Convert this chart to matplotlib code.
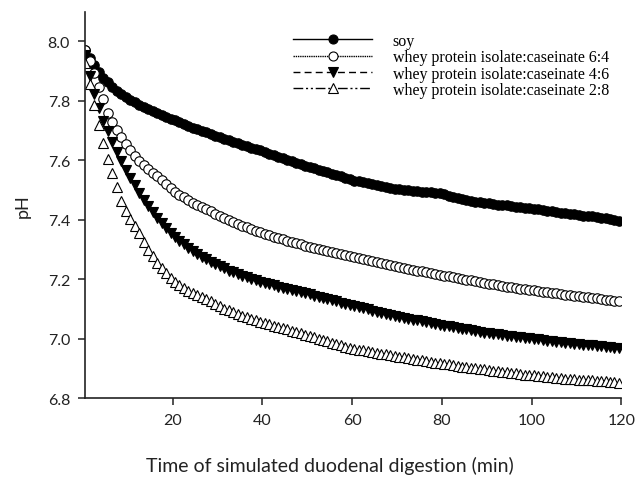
import numpy as np
import matplotlib
matplotlib.use("Agg")
import matplotlib.pyplot as plt
from matplotlib.lines import Line2D

# sampling time (min), one reading per minute
time_min = np.arange(0.5, 120, 1.0)

ph_soy = [
    7.970, 7.945, 7.920, 7.898, 7.878, 7.862, 7.848, 7.834, 7.822, 7.812,
    7.803, 7.795, 7.787, 7.780, 7.773, 7.766, 7.759, 7.752, 7.746, 7.740,
    7.734, 7.728, 7.722, 7.716, 7.710, 7.705, 7.699, 7.694, 7.688, 7.683,
    7.678, 7.673, 7.668, 7.663, 7.658, 7.653, 7.648, 7.643, 7.638, 7.633,
    7.628, 7.622, 7.617, 7.612, 7.607, 7.601, 7.596, 7.591, 7.587, 7.582,
    7.578, 7.573, 7.569, 7.564, 7.560, 7.555, 7.551, 7.546, 7.542, 7.537,
    7.532, 7.529, 7.526, 7.522, 7.519, 7.516, 7.513, 7.510, 7.506, 7.504,
    7.502, 7.500, 7.499, 7.497, 7.496, 7.494, 7.493, 7.492, 7.490, 7.489,
    7.486, 7.481, 7.477, 7.473, 7.469, 7.466, 7.463, 7.460, 7.458, 7.457,
    7.455, 7.453, 7.451, 7.449, 7.448, 7.446, 7.444, 7.442, 7.440, 7.439,
    7.437, 7.435, 7.433, 7.431, 7.428, 7.426, 7.424, 7.422, 7.420, 7.418,
    7.416, 7.414, 7.413, 7.411, 7.409, 7.407, 7.405, 7.403, 7.400, 7.396,
]

ph_wpi_64 = [
    7.972, 7.935, 7.893, 7.848, 7.805, 7.760, 7.728, 7.703, 7.678, 7.655,
    7.633, 7.615, 7.598, 7.585, 7.571, 7.557, 7.546, 7.533, 7.520, 7.506,
    7.494, 7.484, 7.475, 7.466, 7.457, 7.449, 7.442, 7.435, 7.428, 7.420,
    7.413, 7.405, 7.398, 7.392, 7.386, 7.380, 7.374, 7.369, 7.363, 7.358,
    7.353, 7.348, 7.343, 7.339, 7.334, 7.330, 7.325, 7.321, 7.317, 7.313,
    7.309, 7.305, 7.302, 7.298, 7.294, 7.291, 7.287, 7.284, 7.280, 7.277,
    7.274, 7.270, 7.267, 7.264, 7.260, 7.257, 7.254, 7.250, 7.247, 7.244,
    7.241, 7.238, 7.235, 7.232, 7.229, 7.226, 7.223, 7.220, 7.217, 7.214,
    7.212, 7.209, 7.206, 7.204, 7.201, 7.198, 7.196, 7.193, 7.190, 7.188,
    7.185, 7.183, 7.180, 7.178, 7.175, 7.173, 7.171, 7.168, 7.166, 7.164,
    7.162, 7.160, 7.158, 7.156, 7.154, 7.152, 7.150, 7.148, 7.146, 7.144,
    7.142, 7.140, 7.139, 7.137, 7.135, 7.133, 7.131, 7.130, 7.128, 7.126,
]

ph_wpi_46 = [
    7.955, 7.885, 7.822, 7.775, 7.733, 7.700, 7.660, 7.627, 7.596, 7.567,
    7.540, 7.516, 7.491, 7.466, 7.446, 7.426, 7.405, 7.389, 7.373, 7.357,
    7.342, 7.329, 7.317, 7.305, 7.294, 7.285, 7.276, 7.267, 7.259, 7.251,
    7.243, 7.236, 7.229, 7.223, 7.217, 7.211, 7.206, 7.201, 7.196, 7.191,
    7.187, 7.183, 7.179, 7.175, 7.171, 7.167, 7.164, 7.160, 7.156, 7.152,
    7.149, 7.145, 7.141, 7.137, 7.133, 7.129, 7.125, 7.121, 7.118, 7.114,
    7.110, 7.106, 7.102, 7.098, 7.094, 7.091, 7.087, 7.083, 7.079, 7.076,
    7.073, 7.070, 7.067, 7.064, 7.061, 7.058, 7.055, 7.052, 7.049, 7.046,
    7.044, 7.041, 7.039, 7.036, 7.033, 7.031, 7.028, 7.025, 7.023, 7.020,
    7.018, 7.016, 7.014, 7.012, 7.010, 7.008, 7.006, 7.004, 7.002, 7.001,
    6.999, 6.997, 6.995, 6.993, 6.991, 6.990, 6.988, 6.986, 6.984, 6.982,
    6.981, 6.979, 6.978, 6.977, 6.975, 6.974, 6.972, 6.971, 6.969, 6.967,
]

ph_wpi_28 = [
    7.928, 7.858, 7.787, 7.720, 7.658, 7.603, 7.557, 7.510, 7.464, 7.430,
    7.402, 7.379, 7.354, 7.326, 7.299, 7.278, 7.256, 7.236, 7.220, 7.204,
    7.190, 7.180, 7.170, 7.161, 7.154, 7.147, 7.140, 7.133, 7.125, 7.117,
    7.109, 7.101, 7.095, 7.088, 7.082, 7.076, 7.071, 7.066, 7.061, 7.056,
    7.052, 7.048, 7.044, 7.040, 7.035, 7.031, 7.027, 7.022, 7.018, 7.013,
    7.009, 7.004, 7.000, 6.995, 6.991, 6.986, 6.982, 6.977, 6.973, 6.968,
    6.965, 6.962, 6.960, 6.957, 6.954, 6.952, 6.949, 6.947, 6.944, 6.942,
    6.939, 6.937, 6.934, 6.932, 6.929, 6.927, 6.924, 6.922, 6.919, 6.917,
    6.915, 6.913, 6.911, 6.909, 6.906, 6.904, 6.902, 6.900, 6.898, 6.896,
    6.894, 6.892, 6.890, 6.888, 6.886, 6.885, 6.883, 6.881, 6.879, 6.877,
    6.876, 6.874, 6.873, 6.871, 6.870, 6.868, 6.867, 6.865, 6.864, 6.863,
    6.862, 6.861, 6.860, 6.859, 6.858, 6.857, 6.856, 6.855, 6.854, 6.852,
]

labels = ["soy",
          "whey protein isolate:caseinate 6:4",
          "whey protein isolate:caseinate 4:6",
          "whey protein isolate:caseinate 2:8"]
x_ticks = [20, 40, 60, 80, 100, 120]
y_ticks = [6.8, 7.0, 7.2, 7.4, 7.6, 7.8, 8.0]

plt.rcParams['font.family'] = ['Lato', 'DejaVu Sans']

fig = plt.figure(figsize=(6.38, 4.89), dpi=100)
ax = fig.add_axes([0.1337, 0.184, 0.840, 0.790])

# (series, marker, face colour, legend line style)
styles = [
    (ph_soy, 'o', 'black', '-'),
    (ph_wpi_64, 'o', 'white', (0, (1, 0.6))),
    (ph_wpi_46, 'v', 'black', (0, (5, 3))),
    (ph_wpi_28, '^', 'white', (0, (7, 2, 1.5, 2, 1.5, 2))),
]

handles = []
for (vals, mk, fc, ls), lab in zip(styles, labels):
    ax.plot(time_min, vals, linestyle='none', marker=mk, markersize=6.8,
            markerfacecolor=fc, markeredgecolor='black', markeredgewidth=0.8)
    handles.append(Line2D([], [], color='black', linewidth=1.0, linestyle=ls,
                          marker=mk, markersize=6.5, markerfacecolor=fc,
                          markeredgecolor='black', markeredgewidth=0.8))

ax.set_xlim(0.5, 120)
ax.set_ylim(6.8, 8.1)
ax.set_xticks(x_ticks)
ax.set_yticks(y_ticks)
ax.set_yticklabels([f"{v:.1f}" for v in y_ticks])

for side in ['top', 'right']:
    ax.spines[side].set_visible(False)
for side in ['left', 'bottom']:
    ax.spines[side].set_linewidth(1.2)
    ax.spines[side].set_color('#222222')
ax.tick_params(direction='out', length=5, width=1.1, color='#222222',
               labelsize=11.5, labelcolor='#222222', pad=6)

# x title sits a little left of the axes centre in the original
fig.text(330 / 638, 1 - 466 / 489, "Time of simulated duodenal digestion (min)",
         fontsize=14, color='#222222', ha='center', va='center')
ax.set_ylabel("pH", fontsize=13, color='#222222', labelpad=12)

leg = fig.legend(handles, labels, loc='upper left',
                 bbox_to_anchor=(293 / 638, 1 - 34 / 489),
                 frameon=False, borderpad=0, borderaxespad=0,
                 handlelength=4.95, handletextpad=1.3, labelspacing=0.02,
                 prop={'family': 'Liberation Serif', 'size': 11.5})

fig.savefig("out.png", dpi=100)
